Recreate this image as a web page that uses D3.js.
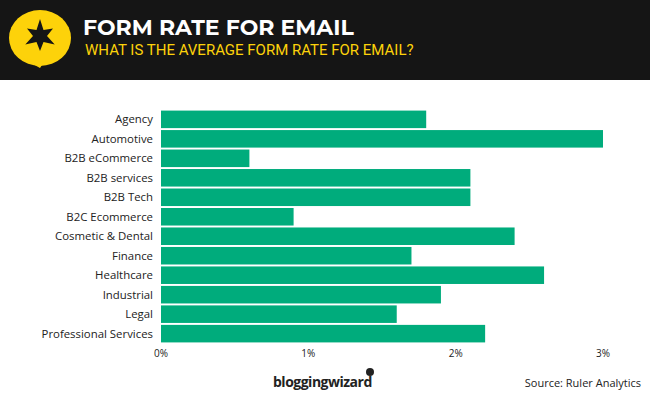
<!DOCTYPE html>
<html><head><meta charset="utf-8">
<script src="https://cdn.jsdelivr.net/npm/d3@7"></script>
<style>body{margin:0;background:#fff}svg{display:block}</style>
</head><body><div id="chart"></div>
<script>
const categories = ["Agency","Automotive","B2B eCommerce","B2B services","B2B Tech","B2C Ecommerce","Cosmetic & Dental","Finance","Healthcare","Industrial","Legal","Professional Services"];
const values = [1.8, 3.0, 0.6, 2.1, 2.1, 0.9, 2.4, 1.7, 2.6, 1.9, 1.6, 2.2];
const ticks = [0, 1, 2, 3];

const W = 650, H = 400;
const svg = d3.select("#chart").append("svg").attr("width", W).attr("height", H);

// header
svg.append("rect").attr("width", W).attr("height", 80).attr("fill", "#151515");
svg.append("ellipse").attr("cx", 40).attr("cy", 38).attr("rx", 31).attr("ry", 28).attr("fill", "#fdd20a");
svg.append("path").attr("d", "M22,58 L44,62 L40,68 Z").attr("fill", "#fdd20a");
const star = [];
for (let i = 0; i < 12; i++) {
  const r = i % 2 ? 7 : (i % 4 === 0 ? 17 : 15);
  const a = i * Math.PI / 6 - Math.PI / 2;
  star.push([40 + r * Math.cos(a), 36 + r * Math.sin(a)]);
}
svg.append("path").attr("d", d3.line()(star) + "Z").attr("fill", "#151515");
svg.append("text").attr("x", 83).attr("y", 35).attr("fill", "#fff")
  .style("font", "bold 22px Montserrat, 'Open Sans', sans-serif").text("FORM RATE FOR EMAIL");
svg.append("text").attr("x", 85).attr("y", 55).attr("fill", "#fdd20a")
  .style("font", "15px Roboto, sans-serif").text("WHAT IS THE AVERAGE FORM RATE FOR EMAIL?");

// chart
const x = d3.scaleLinear().domain([0, 3]).range([161, 603]);
const y = d3.scaleBand().domain(categories).range([110, 343]).paddingInner(0.1).paddingOuter(0.03);

svg.selectAll(".bar").data(categories).join("rect").attr("class", "bar")
  .attr("x", x(0)).attr("y", d => y(d))
  .attr("width", (d, i) => x(values[i]) - x(0)).attr("height", y.bandwidth())
  .attr("fill", "#00ac7c");

svg.selectAll(".lbl").data(categories).join("text").attr("class", "lbl")
  .attr("x", 153).attr("y", d => y(d) + y.bandwidth() / 2).attr("dy", "0.35em")
  .attr("text-anchor", "end").attr("fill", "#222")
  .style("font", "11.4px 'Open Sans', sans-serif").text(d => d);

svg.selectAll(".tick").data(ticks).join("text").attr("class", "tick")
  .attr("x", d => x(d)).attr("y", 357).attr("text-anchor", "middle").attr("fill", "#222")
  .style("font", "10px 'Open Sans', sans-serif").text(d => d + "%");

// footer
svg.append("text").attr("x", 273).attr("y", 387).attr("fill", "#222")
  .style("font", "bold 14px 'Open Sans', sans-serif").style("letter-spacing", "-0.5px").text("bloggingwizard");
svg.append("circle").attr("cx", 370).attr("cy", 372).attr("r", 4).attr("fill", "#222");
svg.append("text").attr("x", 641).attr("y", 387).attr("text-anchor", "end").attr("fill", "#222")
  .style("font", "11px 'Open Sans', sans-serif").text("Source: Ruler Analytics");
</script></body></html>
